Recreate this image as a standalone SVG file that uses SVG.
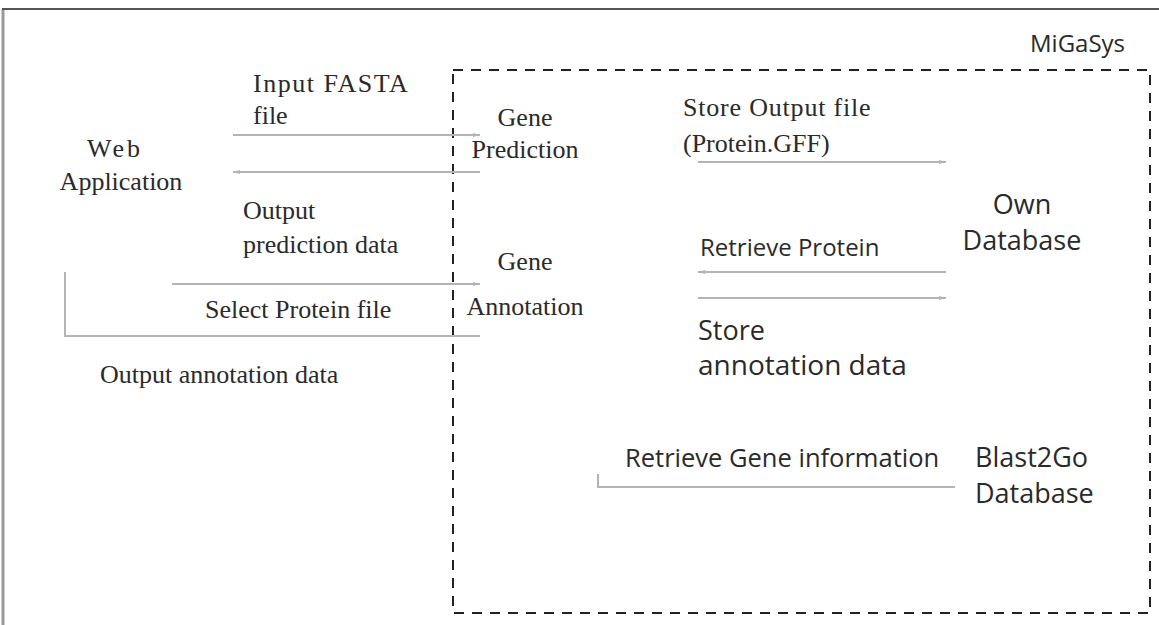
<svg xmlns="http://www.w3.org/2000/svg" width="1159" height="625" viewBox="0 0 1159 625">
<defs>
<style>
.serif{font-family:"Liberation Serif","Times New Roman",serif;font-size:26px;fill:#2a2a2a}
.sans{font-family:"Open Sans","Noto Sans",sans-serif;font-size:24px;fill:#2a2a2a}
.big{font-size:27px}
.xl{font-size:28px}
.mid{font-size:25.5px}
.conn{stroke:#b4b4b4;stroke-width:2;fill:none}
.dash{stroke:#222;stroke-width:2;fill:none;stroke-dasharray:10 8}
</style>
<marker id="ah" viewBox="0 0 10 10" refX="10" refY="5" markerWidth="7" markerHeight="7" orient="auto-start-reverse" markerUnits="userSpaceOnUse">
<path d="M0,2 L10,5 L0,8 z" fill="#b4b4b4"/>
</marker>
</defs>
<rect width="1159" height="625" fill="#fff"/>
<line x1="3" y1="9" x2="3" y2="625" stroke="#9a9a9a" stroke-width="3"/>
<line x1="2" y1="9" x2="1159" y2="9" stroke="#555" stroke-width="2"/>
<g id="migasys">
<rect class="dash" x="453" y="70" width="697" height="543"/>
<text class="sans" x="1030" y="52">MiGaSys</text>
</g>
<g id="web-application">
<text class="serif" x="115" y="157" text-anchor="middle" letter-spacing="3">Web</text>
<text class="serif" x="121" y="190" text-anchor="middle">Application</text>
</g>
<g id="gene-prediction">
<text class="serif" x="525" y="126" text-anchor="middle">Gene</text>
<text class="serif" x="525" y="158" text-anchor="middle">Prediction</text>
</g>
<g id="gene-annotation">
<text class="serif" x="525" y="270" text-anchor="middle">Gene</text>
<text class="serif" x="525" y="315" text-anchor="middle">Annotation</text>
</g>
<g id="own-database">
<text class="sans big" x="1022" y="214" text-anchor="middle">Own</text>
<text class="sans big" x="1022" y="250" text-anchor="middle">Database</text>
</g>
<g id="blast2go-database">
<text class="sans big" x="975" y="467">Blast2Go</text>
<text class="sans big" x="975" y="503">Database</text>
</g>
<g id="connectors">
<line class="conn" x1="233" y1="135" x2="480" y2="135" marker-end="url(#ah)"/>
<line class="conn" x1="233" y1="172" x2="480" y2="172" marker-start="url(#ah)"/>
<line class="conn" x1="172" y1="284" x2="480" y2="284" marker-end="url(#ah)"/>
<polyline class="conn" points="65,272 65,336 480,336"/>
<line class="conn" x1="698" y1="162" x2="946" y2="162" marker-end="url(#ah)"/>
<line class="conn" x1="698" y1="272" x2="946" y2="272" marker-start="url(#ah)"/>
<line class="conn" x1="698" y1="298" x2="946" y2="298" marker-end="url(#ah)"/>
<polyline class="conn" points="598,474 598,487 955,487"/>
<text class="serif" x="253" y="92" letter-spacing="1.5">Input FASTA</text>
<text class="serif" x="253" y="124">file</text>
<text class="serif" x="243" y="219">Output</text>
<text class="serif" x="243" y="253">prediction data</text>
<text class="serif" x="205" y="318">Select Protein file</text>
<text class="serif" x="100" y="383">Output annotation data</text>
<text class="serif" x="683" y="116" letter-spacing="0.8">Store Output file</text>
<text class="serif" x="683" y="152">(Protein.GFF)</text>
<text class="sans" x="700" y="256">Retrieve Protein</text>
<text class="sans big" x="698" y="340">Store</text>
<text class="sans xl" x="698" y="375">annotation data</text>
<text class="sans mid" x="625" y="467">Retrieve Gene information</text>
</g>
</svg>
